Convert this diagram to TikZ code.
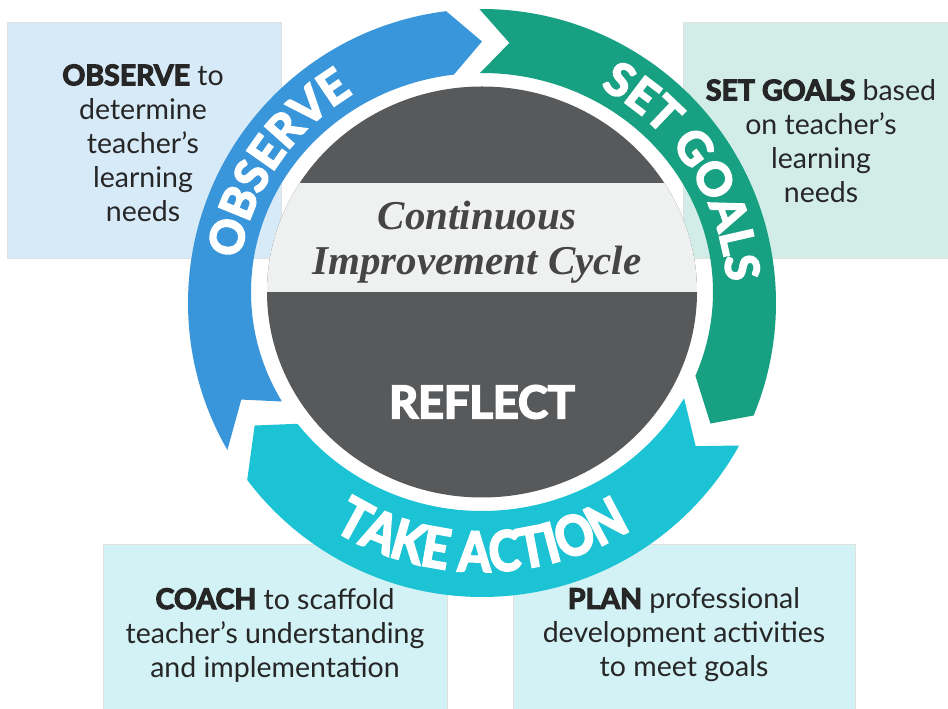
\documentclass[tikz,border=0pt]{standalone}
\usepackage{fontspec}
\setmainfont{Lato}
\newfontfamily\heavyfont{Lato}[FakeBold=4]
\newfontfamily\tallfont{Lato}[FakeStretch=0.86,FakeBold=4]
\newfontfamily\serifit{Liberation Serif}
\usetikzlibrary{calc,decorations.text}
\definecolor{cblue}{HTML}{3A96DA}
\definecolor{cteal}{HTML}{18A082}
\definecolor{ccyan}{HTML}{1CC3D4}
\definecolor{cdark}{HTML}{58595B}
\definecolor{cband}{HTML}{EFF1F0}
\definecolor{ctxt}{HTML}{454545}
\definecolor{btxt}{HTML}{262626}
\definecolor{boxblue}{HTML}{D7EAF8}
\definecolor{boxteal}{HTML}{D2EDE7}
\definecolor{boxcyan}{HTML}{D3F2F5}
\newcommand{\ringseg}[3]{%
  \fill[#1] ($(O)+(#2:294)$) arc[start angle=#2, end angle=#3, radius=294]
    -- ($(M)+({#3-7}:262.5 and 256)$)
    -- ($(E)+(#3:231 and 219)$)
    arc[start angle=#3, end angle=#2, x radius=231, y radius=219]
    -- ($(M)+({#2-6.5}:262.5 and 256)$) -- cycle;}
\begin{document}
\begin{tikzpicture}[x=1pt,y=1pt,
  btext/.style={align=center, text=btxt, inner sep=0pt, font=\fontsize{28.5}{34}\selectfont},
  ctext/.style={text=ctxt, inner sep=0pt, anchor=base, font=\serifit\bfseries\itshape\fontsize{41}{41}\selectfont},
  boxline/.style={draw=black!12, line width=0.8pt},
  ringtext/.style={decorate, decoration={text along path, text align=center, text color=white}}]
\useasboundingbox (0,0) rectangle (948,709);
\fill[white] (0,0) rectangle (948,709);
% boxes
\filldraw[fill=boxblue, boxline] (7,451) rectangle (281,687);
\filldraw[fill=boxteal, boxline] (683,451) rectangle (960,687);
\filldraw[fill=boxcyan, boxline] (103,-5) rectangle (447,165);
\filldraw[fill=boxcyan, boxline] (513,-5) rectangle (855,165);
% centres
\coordinate (O) at (482,406);
\coordinate (E) at (482,417);
\coordinate (M) at (482,411.5);
% ring
\ringseg{cblue}{210}{97}
\ringseg{cteal}{90.5}{-22.5}
\ringseg{ccyan}{-29}{-143}
% centre disc
\fill[cdark] (E) ellipse[x radius=215, y radius=205.5];
\begin{scope}
  \clip (E) ellipse[x radius=215, y radius=205.5];
  \fill[cband] (250,417) rectangle (720,526);
\end{scope}
\node[ctext] (cont) at (477,479) {Continuous};
\node[ctext] (impr) at (477,434) {Improvement Cycle};
\node[text=white, inner sep=0pt, font=\heavyfont\bfseries\fontsize{45}{45}\selectfont] (refl) at (482,307) {REFLECT};
% ring labels
\path[ringtext, decoration={text={|\heavyfont\bfseries\fontsize{46}{46}\selectfont|OBSERVE}}]
  ($(M)+(198:245.5 and 239.5)$) arc[start angle=198, end angle=95, x radius=245.5, y radius=239.5];
\path[ringtext, decoration={text={|\heavyfont\bfseries\fontsize{46}{46}\selectfont|SET GOALS}}]
  ($(M)+(80:245.5 and 239.5)$) arc[start angle=80, end angle=-15.5, x radius=245.5, y radius=239.5];
\path[ringtext, decoration={text={|\tallfont\bfseries\fontsize{55}{55}\selectfont|TAKE ACTION}}]
  ($(M)+(-150:280 and 274)$) arc[start angle=-150, end angle=-30, x radius=280, y radius=274];
% box texts
\node[btext] (obs) at (143,566) {{\heavyfont\bfseries OBSERVE} to\\determine\\teacher’s\\learning\\needs};
\node[btext] (set) at (821,568) {{\heavyfont\bfseries SET GOALS} based\\on teacher’s\\learning\\needs};
\node[btext] (coach) at (275,74) {{\heavyfont\bfseries COACH} to scaffold\\teacher’s understanding\\and implementation};
\node[btext] (plan) at (684,74) {{\heavyfont\bfseries PLAN} professional\\development activities\\to meet goals};
\end{tikzpicture}
\end{document}
